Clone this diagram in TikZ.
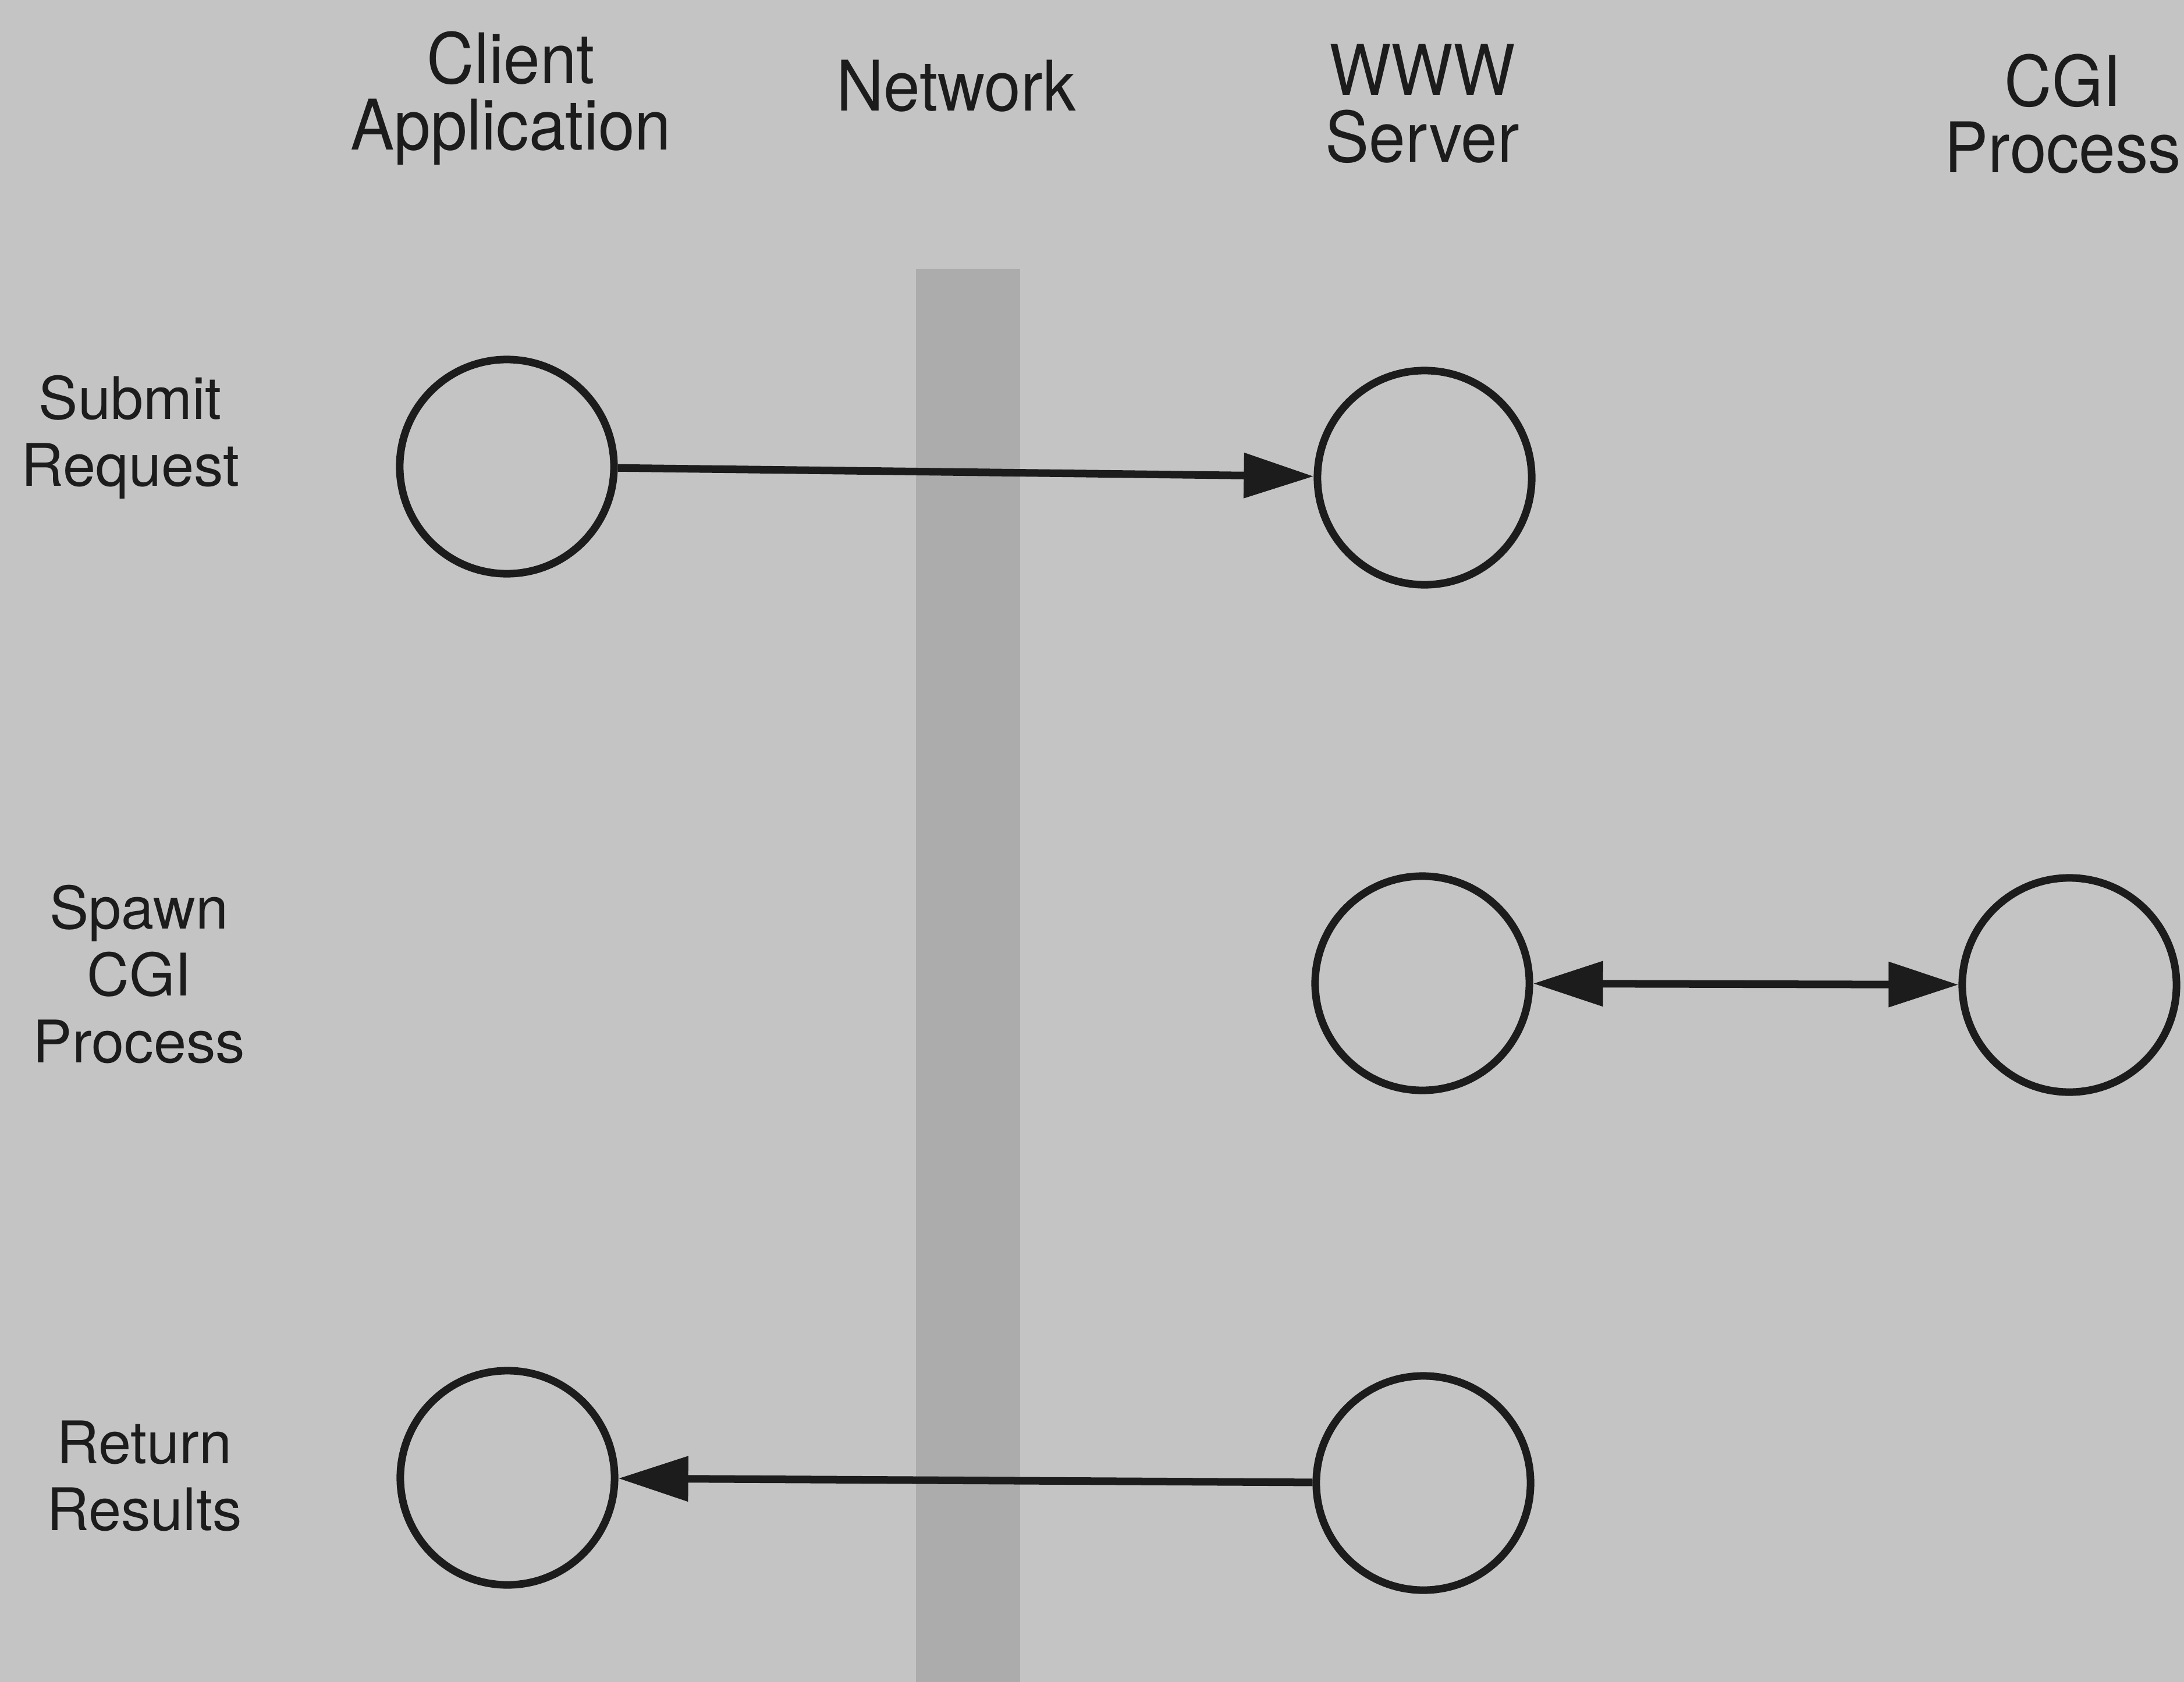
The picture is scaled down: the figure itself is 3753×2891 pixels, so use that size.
\documentclass[tikz,border=0pt]{standalone}
\usepackage{fontspec}
\setmainfont{TeX Gyre Heros}
\newfontfamily\headfont{TeX Gyre Heros}[FakeStretch=0.94]
\usetikzlibrary{arrows.meta}
\definecolor{paper}{RGB}{196,196,196}
\definecolor{netband}{RGB}{172,172,172}
\definecolor{ink}{RGB}{28,28,28}
\tikzset{
  % multi-line labels are placed by the baseline of their last line
  colhead/.style={anchor=base, align=center, text=ink,
    font=\headfont\fontsize{34.1pt}{32.7pt}\selectfont, inner sep=0pt},
  rowhead/.style={anchor=base, align=center, text=ink,
    font=\fontsize{28.7pt}{32.7pt}\selectfont, inner sep=0pt},
  proc/.style={circle, draw=ink, line width=0.13cm, minimum size=3.68cm,
    inner sep=0pt},
  msg/.style={draw=ink, line width=0.13cm,
    -{Triangle[length=1.2cm, width=0.75cm]}},
  dmsg/.style={draw=ink, line width=0.13cm,
    {Triangle[length=1.2cm, width=0.75cm]}-{Triangle[length=1.2cm, width=0.75cm]}},
}
\begin{document}
\begin{tikzpicture}[x=0.01cm, y=-0.01cm]
  % page
  \fill[paper] (0,0) rectangle (3753,2891);
  \useasboundingbox (0,0) rectangle (3753,2891);

  % network band
  \fill[netband] (1574,462) rectangle (1753,2891);

  % column headings
  \node[colhead] (hclient) at (878,258) {Client\\Application};
  \node[colhead] (hnet)    at (1643,191) {Network};
  \node[colhead] (hwww)    at (2444,278) {WWW\\Server};
  \node[colhead] (hcgi)    at (3545,297) {CGI\\Process};

  % row headings
  \node[rowhead] (rsubmit) at (224,835) {Submit\\Request};
  \node[rowhead] (rspawn)  at (239,1826) {Spawn\\CGI\\Process};
  \node[rowhead] (rreturn) at (248,2630) {Return\\Results};

  % processes
  \node[proc] (c1) at (871,802) {};
  \node[proc] (w1) at (2448,821) {};
  \node[proc] (w2) at (2444,1690) {};
  \node[proc] (g2) at (3556,1693) {};
  \node[proc] (c3) at (872,2540) {};
  \node[proc] (w3) at (2446,2549) {};

  % messages
  \draw[msg] (c1) -- (w1);
  \draw[dmsg] (w2) -- (g2);
  \draw[msg] (w3) -- (c3);
\end{tikzpicture}
\end{document}
